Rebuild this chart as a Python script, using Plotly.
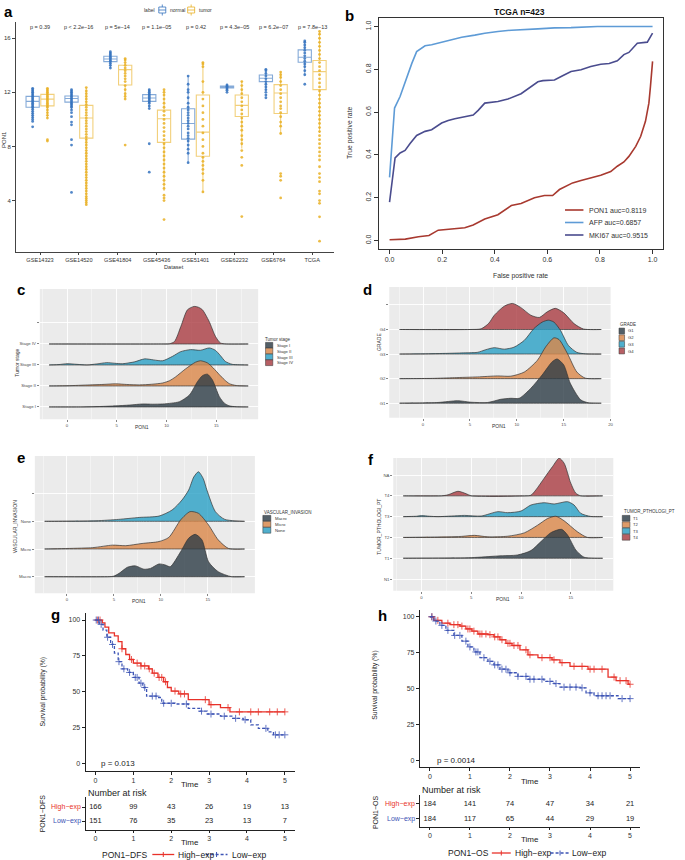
import plotly.graph_objects as go

# ======================= DATA =======================
# ---- panel a : PON1 expression by dataset ----
datasets = ["GSE14323", "GSE14520", "GSE41804", "GSE45436", "GSE51401", "GSE62232", "GSE6764", "TCGA"]
p_values = ["p = 0.39", "p < 2.2e\u221216", "p = 5e\u221214", "p = 1.1e\u221205", "p = 0.42",
            "p = 4.3e\u221205", "p = 6.2e\u221207", "p = 7.8e\u221213"]

normal_q1 = [10.9, 11.28, 14.27, 11.33, 8.54, 12.32, 12.79, 14.22]
normal_median = [11.33, 11.55, 14.47, 11.58, 9.7, 12.4, 13.04, 14.6]
normal_q3 = [11.7, 11.73, 14.67, 11.83, 10.79, 12.47, 13.28, 15.14]
normal_lower = [10.1, 10.7, 13.8, 10.8, 6.8, 12.1, 12.1, 13.3]
normal_upper = [12.3, 12.2, 15.0, 12.2, 13.2, 12.6, 13.7, 15.8]

tumor_q1 = [11.0, 8.62, 12.54, 8.3, 7.28, 10.22, 10.44, 12.2]
tumor_median = [11.5, 10.1, 13.68, 10.05, 9.06, 11.04, 11.95, 13.53]
tumor_q3 = [11.85, 11.04, 14.0, 10.69, 11.8, 11.8, 12.57, 14.35]
tumor_lower = [10.1, 3.7, 11.5, 4.7, 4.64, 7.85, 8.96, 9.0]
tumor_upper = [12.3, 12.35, 14.5, 12.2, 14.27, 12.86, 13.5, 16.5]

normal_points = [
    [9.45, 9.85, 10.0, 10.15, 10.3, 10.45, 10.6, 10.75, 10.9, 11.0, 11.1, 11.2, 11.3, 11.4, 11.5, 11.6, 11.7, 11.8, 11.9, 12.0, 12.1, 12.2, 12.3],
    [4.6, 8.1, 8.5, 9.6, 9.8, 10.2, 10.5, 10.7, 10.9, 11.0, 11.1, 11.2, 11.3, 11.4, 11.5, 11.6, 11.7, 11.8, 11.9, 12.0, 12.1, 12.2],
    [13.8, 14.0, 14.15, 14.3, 14.4, 14.5, 14.6, 14.7, 14.8, 14.9, 15.0],
    [6.1, 8.2, 10.8, 11.0, 11.2, 11.3, 11.4, 11.5, 11.6, 11.7, 11.8, 11.9, 12.0, 12.1, 12.2],
    [6.8, 7.5, 7.8, 8.1, 8.4, 8.6, 8.8, 9.0, 9.3, 9.5, 9.7, 9.9, 10.1, 10.3, 10.5, 10.7, 10.9, 11.2, 11.6, 12.0, 12.2, 12.6, 13.2],
    [12.0, 12.15, 12.25, 12.35, 12.45, 12.55],
    [11.6, 11.8, 12.0, 12.2, 12.4, 12.6, 12.8, 13.0, 13.2, 13.4, 13.6, 13.7],
    [12.6, 13.3, 13.6, 13.9, 14.1, 14.3, 14.5, 14.7, 14.9, 15.1, 15.3, 15.5, 15.7, 15.8],
]
tumor_points = [
    [8.4, 8.5, 10.1, 10.3, 10.5, 10.7, 10.9, 11.0, 11.1, 11.2, 11.3, 11.4, 11.5, 11.6, 11.7, 11.8, 11.9, 12.0, 12.1, 12.2, 12.3],
    [3.7, 3.85, 4.0, 4.15, 4.3, 4.5, 4.7, 4.9, 5.1, 5.3, 5.5, 5.7, 5.9, 6.1, 6.3, 6.5, 6.7, 6.9, 7.1, 7.3, 7.5, 7.7,
     7.9, 8.1, 8.3, 8.5, 8.7, 8.9, 9.1, 9.3, 9.5, 9.7, 9.9, 10.1, 10.3, 10.5, 10.7, 10.9, 11.1, 11.3, 11.5, 11.7, 11.9, 12.1, 12.35],
    [8.1, 11.5, 11.7, 11.9, 12.2, 12.5, 12.8, 13.0, 13.2, 13.4, 13.6, 13.8, 14.0, 14.2, 14.4, 14.5],
    [2.6, 4.0, 4.2, 4.4, 4.9, 5.2, 5.5, 5.8, 6.1, 6.4, 6.7, 7.0, 7.3, 7.6, 7.9, 8.2, 8.5, 8.8, 9.1, 9.4, 9.7, 10.0,
     10.3, 10.6, 10.9, 11.2, 11.5, 11.8, 12.0, 12.2],
    [4.64, 5.5, 6.0, 6.3, 6.6, 6.9, 7.2, 7.5, 8.0, 8.5, 9.0, 9.5, 10.0, 10.5, 11.0, 11.5, 12.0, 12.8, 13.9, 14.1, 14.2],
    [2.82, 6.6, 7.2, 7.7, 8.2, 8.5, 8.8, 9.2, 9.5, 9.8, 10.1, 10.4, 10.7, 11.0, 11.3, 11.6, 11.9, 12.2, 12.5, 12.8],
    [4.2, 5.5, 5.8, 6.0, 8.96, 9.5, 9.8, 10.2, 10.5, 10.8, 11.0, 11.3, 11.6, 11.9, 12.2, 12.5, 12.8, 13.1, 13.3, 13.5],
    [1.0, 2.8, 3.8, 4.0, 4.5, 4.7, 5.4, 5.7, 6.0, 6.5, 7.0, 7.3, 7.6, 7.9, 8.2, 8.5, 8.8, 9.1, 9.4, 9.7, 10.0, 10.3,
     10.6, 10.9, 11.2, 11.5, 11.8, 12.1, 12.4, 12.7, 13.0, 13.3, 13.6, 13.9, 14.2, 14.5, 14.8, 15.1, 15.4, 15.7, 16.0, 16.3, 16.5],
]

# ---- panel b : ROC curves ----
roc_names = ["PON1 auc=0.8119", "AFP auc=0.6857", "MKI67 auc=0.9515"]
fpr_pon1 = [0, 0.06, 0.11, 0.15, 0.185, 0.235, 0.286, 0.318, 0.362, 0.412, 0.438, 0.463, 0.5, 0.551, 0.589, 0.62,
            0.646, 0.696, 0.728, 0.803, 0.841, 0.866, 0.891, 0.91, 0.936, 0.955, 0.973, 0.986, 0.992, 1.0]
tpr_pon1 = [0.003, 0.006, 0.017, 0.023, 0.048, 0.054, 0.059, 0.072, 0.10, 0.12, 0.14, 0.163, 0.173, 0.2, 0.21, 0.21,
            0.238, 0.269, 0.28, 0.305, 0.322, 0.347, 0.367, 0.393, 0.44, 0.487, 0.557, 0.642, 0.72, 0.837]
fpr_afp = [0, 0.019, 0.04, 0.066, 0.085, 0.103, 0.135, 0.16, 0.198, 0.236, 0.274, 0.324, 0.362, 0.412, 0.463,
           0.564, 0.627, 0.69, 0.79, 1.0]
tpr_afp = [0.295, 0.619, 0.673, 0.767, 0.829, 0.883, 0.91, 0.915, 0.927, 0.938, 0.95, 0.96, 0.969, 0.977, 0.983,
           0.989, 0.994, 0.995, 1.0, 1.0]
fpr_mki67 = [0, 0.021, 0.04, 0.059, 0.078, 0.103, 0.135, 0.16, 0.198, 0.223, 0.248, 0.286, 0.318, 0.337, 0.362,
             0.412, 0.45, 0.5, 0.532, 0.564, 0.583, 0.627, 0.658, 0.69, 0.728, 0.765, 0.803, 0.835, 0.866, 0.891,
             0.91, 0.942, 0.98, 1.0]
tpr_mki67 = [0.179, 0.386, 0.409, 0.421, 0.453, 0.491, 0.51, 0.518, 0.549, 0.561, 0.569, 0.58, 0.586, 0.608, 0.642,
             0.65, 0.661, 0.686, 0.714, 0.742, 0.747, 0.75, 0.77, 0.79, 0.798, 0.813, 0.824, 0.827, 0.84, 0.869,
             0.879, 0.922, 0.927, 0.969]

# ---- panel c : tumor stage ridges (x = PON1, h = ridge height in row units) ----
c_levels = ["Stage I", "Stage II", "Stage III", "Stage IV", ""]
c_x_stage1 = [-1.8, 1.5, 3.3, 4.9, 6.3, 7.6, 8.6, 9.6, 10.5, 11.3, 12.3, 13.1, 13.6, 14.1, 14.6, 15.3, 15.8, 16.3, 17.0, 18.2]
c_h_stage1 = [0, 0.0, 0.02, 0.05, 0.09, 0.14, 0.13, 0.14, 0.18, 0.25, 0.57, 1.2, 1.49, 1.56, 1.29, 0.49, 0.18, 0.05, 0.01, 0]
c_x_stage2 = [-1.8, 0, 2.3, 3.5, 4.9, 6.0, 7.3, 8.5, 9.6, 10.3, 10.9, 11.9, 12.9, 13.4, 14.1, 14.7, 15.3, 15.8, 16.3, 17.0, 18.2]
c_h_stage2 = [0, 0.01, 0.05, 0.07, 0.1, 0.07, 0.05, 0.08, 0.14, 0.25, 0.43, 0.81, 1.13, 1.2, 1.1, 0.85, 0.54, 0.3, 0.11, 0.02, 0]
c_x_stage3 = [-1.8, -0.8, 0, 1.0, 2.0, 3.0, 4.0, 4.8, 5.6, 6.8, 7.8, 8.7, 9.6, 10.6, 11.4, 12.4, 13.4, 14.3, 14.9,
              15.4, 15.9, 16.6, 17.3, 18.2]
c_h_stage3 = [0, 0.02, 0.06, 0.03, 0, 0.05, 0.11, 0.08, 0.06, 0.15, 0.29, 0.24, 0.2, 0.41, 0.63, 0.73, 0.7, 0.81, 0.7,
              0.45, 0.17, 0.03, 0.01, 0]
c_x_stage4 = [-1.8, 9.5, 10.3, 10.8, 11.44, 12.1, 12.77, 13.2, 13.6, 14.27, 14.9, 15.4, 16.0, 18.2]
c_h_stage4 = [0, 0, 0.01, 0.12, 0.84, 1.63, 1.79, 1.75, 1.63, 1.08, 0.37, 0.05, 0.0, 0]

# ---- panel d : grade ridges ----
d_levels = ["G1", "G2", "G3", "G4", ""]
d_x_g1 = [-2.5, 1.6, 3.7, 5.1, 6.9, 8.3, 9.36, 10.25, 11.5, 12.7, 13.8, 14.3, 15.0, 15.7, 16.8, 17.6, 19.0]
d_h_g1 = [0, 0.03, 0.1, 0.04, 0.03, 0.16, 0.2, 0.2, 0.61, 1.15, 1.7, 1.8, 1.56, 0.81, 0.14, 0.02, 0]
d_x_g2 = [-2.5, 1.0, 3.36, 5.8, 7.95, 9.36, 10.8, 12.2, 13.07, 13.96, 14.5, 15.4, 16.4, 17.3, 19.0]
d_h_g2 = [0, 0.01, 0.04, 0.07, 0.11, 0.1, 0.27, 0.75, 1.29, 1.66, 1.59, 1.02, 0.27, 0.02, 0]
d_x_g3 = [-2.5, 0, 2.65, 4.5, 5.8, 6.7, 7.6, 8.66, 9.7, 10.8, 11.8, 12.7, 13.36, 13.96, 14.66, 15.5, 16.4, 17.3, 19.0]
d_h_g3 = [0, 0.01, 0.03, 0.05, 0.07, 0.18, 0.26, 0.2, 0.28, 0.56, 1.03, 1.3, 1.38, 1.3, 0.96, 0.35, 0.07, 0.01, 0]
d_x_g4 = [-2.5, 5.0, 6.2, 7.0, 7.6, 8.66, 9.54, 10.4, 11.5, 12.4, 13.25, 14.1, 15.0, 16.1, 17.1, 19.0]
d_h_g4 = [0, 0, 0.03, 0.25, 0.58, 0.95, 1.06, 0.9, 0.58, 0.49, 0.72, 0.86, 0.68, 0.24, 0.02, 0]

# ---- panel e : vascular invasion ridges ----
e_levels = ["Macro", "Micro", "None", ""]
e_x_macro = [-2.36, 4.5, 5.0, 5.56, 6.44, 7.3, 8.2, 8.9, 9.8, 10.5, 11.0, 12.1, 12.96, 13.66, 14.37, 15.07, 16.1, 17.5, 18.9]
e_h_macro = [0, 0, 0.02, 0.12, 0.34, 0.39, 0.27, 0.3, 0.46, 0.42, 0.36, 0.9, 1.39, 1.53, 1.33, 0.54, 0.18, 0.0, 0]
e_x_micro = [-2.36, 2.75, 4.86, 6.27, 8.0, 9.8, 10.85, 12.1, 13.1, 14.0, 15.07, 16.1, 17.2, 18.9]
e_h_micro = [0, 0.05, 0.14, 0.12, 0.2, 0.27, 0.42, 1.05, 1.35, 1.29, 0.87, 0.33, 0.02, 0]
e_x_none = [-2.36, 3.1, 5.5, 7.7, 9.8, 11.2, 12.25, 12.96, 13.5, 14.0, 14.5, 14.9, 15.8, 16.8, 18.9]
e_h_none = [0, 0.02, 0.07, 0.14, 0.19, 0.41, 0.77, 1.13, 1.6, 1.79, 1.55, 1.13, 0.35, 0.07, 0]

# ---- panel f : pathologic T ridges ----
f_levels = ["N1", "T1", "T2", "T3", "T4", "NA"]
f_x_t1 = [-1.83, 5.0, 7.67, 9.67, 11.0, 12.0, 13.0, 14.07, 14.67, 15.5, 16.33, 18.2]
f_h_t1 = [0, 0.03, 0.11, 0.16, 0.37, 0.8, 1.23, 1.39, 1.12, 0.4, 0.05, 0]
f_x_t2 = [-1.83, 2.67, 4.0, 5.33, 6.67, 8.67, 10.33, 11.67, 12.67, 13.5, 14.33, 15.67, 16.67, 18.2]
f_h_t2 = [0, 0.03, 0.05, 0.1, 0.03, 0.06, 0.22, 0.59, 0.91, 1.02, 0.8, 0.27, 0.0, 0]
f_x_t3 = [-1.83, -0.5, 0, 0.8, 1.67, 3.0, 4.33, 6.0, 7.67, 8.67, 10.0, 11.0, 12.33, 13.33, 14.67, 15.33, 16.0, 17.0, 18.2]
f_h_t3 = [0, 0.02, 0.05, 0.02, 0, 0.03, 0.06, 0.03, 0.24, 0.19, 0.27, 0.56, 0.67, 0.61, 0.72, 0.56, 0.16, 0.01, 0]
f_x_t4 = [-1.83, 2.0, 2.67, 3.67, 4.5, 5.0, 10.5, 11.0, 11.5, 12.33, 13.17, 13.83, 14.33, 15.0, 15.5, 16.0, 18.2]
f_h_t4 = [0, 0, 0.05, 0.22, 0.1, 0, 0, 0.03, 0.29, 0.85, 1.41, 1.81, 1.57, 0.61, 0.13, 0, 0]

# ---- panel g : DFS Kaplan-Meier ----
g_high_t = [0, 0.18, 0.25, 0.35, 0.5, 0.6, 0.7, 0.8, 0.9, 1.0, 1.2, 1.4, 1.5, 1.65, 1.8, 1.9, 2.0, 2.2, 2.45, 3.0, 3.3, 3.55, 5.0]
g_high_s = [100, 98, 95, 91, 89, 85, 80, 76, 72.5, 70, 68, 66, 63, 60, 57, 53, 50.5, 48.5, 44.5, 41, 39, 36, 36]
g_low_t = [0, 0.1, 0.2, 0.3, 0.4, 0.5, 0.6, 0.7, 0.85, 1.0, 1.15, 1.25, 1.35, 1.65, 1.75, 2.1, 2.45, 2.75, 2.95,
           3.3, 3.6, 3.9, 4.1, 4.3, 4.55, 4.7, 5.0]
g_low_s = [100, 97, 93, 88, 83, 77, 71, 66, 63.5, 60, 56, 53, 47, 46, 42, 41.5, 38.5, 36.5, 34.5, 33, 31.5, 30.5,
           27, 24.5, 22, 20, 20]
g_high_censor = [0.05, 0.12, 0.7, 0.95, 1.1, 1.2, 1.3, 1.42, 1.55, 1.68, 1.75, 1.85, 2.1, 2.25, 2.35, 2.9, 3.05,
                 3.5, 3.8, 4.1, 4.3, 4.6, 4.8, 5.0]
g_low_censor = [0.02, 0.08, 0.15, 0.32, 0.45, 0.62, 0.75, 0.9, 1.05, 1.1, 1.2, 1.3, 1.5, 1.6, 1.8, 2.0, 2.4, 2.8,
                3.05, 3.4, 3.7, 3.95, 4.5, 4.75, 4.85, 5.0]
g_times = [0, 1, 2, 3, 4, 5]
g_risk_high = [166, 99, 43, 26, 19, 13]
g_risk_low = [151, 76, 35, 23, 13, 7]

# ---- panel h : OS Kaplan-Meier ----
h_high_t = [0, 0.1, 0.3, 0.5, 0.75, 0.9, 1.05, 1.2, 1.45, 1.6, 1.75, 1.9, 2.05, 2.25, 2.45, 2.7, 3.05, 3.25, 3.5,
            3.95, 4.45, 4.65, 4.95, 5.0]
h_high_s = [100, 97.5, 95.5, 94.5, 93.5, 91.5, 90, 88, 87.5, 86, 84, 81.5, 80, 77, 73.5, 71.5, 70, 68, 65.5, 63.5,
            58, 55.5, 53, 53]
h_low_t = [0, 0.1, 0.25, 0.4, 0.6, 0.8, 0.95, 1.1, 1.25, 1.45, 1.6, 1.75, 1.95, 2.2, 2.45, 2.85, 3.1, 3.25, 3.75,
           3.9, 4.1, 4.7, 5.0]
h_low_s = [100, 97, 94, 90.5, 87, 83, 79, 75.5, 71.5, 69, 66.5, 63.5, 61, 58.5, 56.5, 55, 53.5, 51, 50.5, 47, 45, 43, 43]
h_high_censor = [0.05, 0.2, 0.45, 0.6, 0.7, 0.8, 0.95, 1.0, 1.1, 1.25, 1.3, 1.4, 1.5, 1.62, 1.7, 1.8, 1.95, 2.0,
                 2.1, 2.2, 2.4, 2.5, 2.8, 3.0, 3.1, 3.3, 3.6, 3.8, 4.0, 4.1, 4.3, 4.6, 4.75, 4.9, 5.0]
h_low_censor = [0.05, 0.15, 0.3, 0.45, 0.62, 0.75, 0.9, 1.0, 1.15, 1.2, 1.35, 1.5, 1.62, 1.7, 1.8, 1.9, 2.0, 2.2,
                2.4, 2.5, 2.6, 2.8, 3.0, 3.15, 3.35, 3.5, 3.65, 3.8, 4.0, 4.2, 4.3, 4.4, 4.5, 4.8, 5.0]
h_times = [0, 1, 2, 3, 4, 5]
h_risk_high = [184, 141, 74, 47, 34, 21]
h_risk_low = [184, 117, 65, 44, 29, 19]

# ======================= FIGURE =======================
W, H = 685, 860
FONT = "Liberation Sans, Arial, Helvetica, sans-serif"


def X(px):
    return px / W


def Y(py):
    return 1 - py / H


NORMAL = "rgb(52,114,190)"
TUMOR = "rgb(233,176,36)"
NORMAL_BOX = "rgba(52,114,190,0.6)"
TUMOR_BOX = "rgba(233,176,36,0.6)"
R_GRAY, R_ORANGE, R_BLUE, R_RED = ("rgba(45,60,70,0.8)", "rgba(219,135,72,0.8)",
                                   "rgba(41,160,197,0.8)", "rgba(170,60,66,0.8)")
S_GRAY, S_ORANGE, S_BLUE, S_RED = "rgb(83,95,103)", "rgb(222,155,105)", "rgb(80,175,205)", "rgb(183,95,100)"
KM_RED, KM_BLUE = "#E8322A", "#3D54B5"

fig = go.Figure()
ann = []
shapes = []


def A(text, px, py, size, xa="center", ya="middle", angle=0, color="#222", bold=False):
    if bold:
        text = "<b>" + text + "</b>"
    ann.append(dict(text=text, x=X(px), y=Y(py), xref="paper", yref="paper", xanchor=xa, yanchor=ya,
                    showarrow=False, textangle=angle, font=dict(size=size, color=color, family=FONT)))


def RECT(x0, y0, x1, y1, fill, line="#333", lw=0.5):
    shapes.append(dict(type="rect", xref="paper", yref="paper", x0=X(x0), x1=X(x1), y0=Y(y1), y1=Y(y0),
                       fillcolor=fill, line=dict(color=line, width=lw)))


def LINE(x0, y0, x1, y1, color, lw=1.0, dash="solid"):
    shapes.append(dict(type="line", xref="paper", yref="paper", x0=X(x0), x1=X(x1), y0=Y(y0), y1=Y(y1),
                       line=dict(color=color, width=lw, dash=dash)))


layout = dict(width=W, height=H, margin=dict(l=0, r=0, t=0, b=0), paper_bgcolor="white",
              plot_bgcolor="white", showlegend=False, font=dict(family=FONT, color="#222"))


def axis(dom, rng, anchor, **kw):
    d = dict(domain=dom, range=rng, anchor=anchor, zeroline=False, showgrid=False, fixedrange=True)
    d.update(kw)
    return d


# ---------------- panel a ----------------
off = 0.19
layout["xaxis"] = axis([X(16), X(335)], [-0.62, 7.55], "y", tickvals=list(range(len(datasets))),
                       ticktext=datasets, showline=True, linecolor="#444", linewidth=1, ticks="outside",
                       ticklen=2, tickcolor="#444", tickfont=dict(size=5.6, color="#333"))
layout["yaxis"] = axis([Y(252), Y(22)], [0.2, 17.2], "x", tickvals=[4, 8, 12, 16], showline=True,
                       linecolor="#444", linewidth=1, ticks="outside", ticklen=3, tickcolor="#444",
                       tickfont=dict(size=6, color="#333"))
for i in range(len(datasets)):
    for pos, q1, md, q3, lo, hi, col in [
        (i - off, normal_q1[i], normal_median[i], normal_q3[i], normal_lower[i], normal_upper[i], NORMAL_BOX),
        (i + off, tumor_q1[i], tumor_median[i], tumor_q3[i], tumor_lower[i], tumor_upper[i], TUMOR_BOX)]:
        fig.add_trace(go.Box(x=[pos], q1=[q1], median=[md], q3=[q3], lowerfence=[lo], upperfence=[hi],
                             width=0.34, whiskerwidth=0, boxpoints=False, line=dict(color=col, width=1.1),
                             fillcolor="rgba(255,255,255,0)", xaxis="x", yaxis="y", hoverinfo="skip"))
for i in range(len(datasets)):
    fig.add_trace(go.Scatter(x=[i - off] * len(normal_points[i]), y=normal_points[i], mode="markers",
                             marker=dict(size=2.8, color=NORMAL, opacity=0.85), xaxis="x", yaxis="y",
                             hoverinfo="skip"))
    fig.add_trace(go.Scatter(x=[i + off] * len(tumor_points[i]), y=tumor_points[i], mode="markers",
                             marker=dict(size=2.8, color=TUMOR, opacity=0.85), xaxis="x", yaxis="y",
                             hoverinfo="skip"))
    ann.append(dict(text=p_values[i], x=i, y=Y(27), xref="x", yref="paper", showarrow=False,
                    xanchor="center", yanchor="middle", font=dict(size=5.5, color="#333", family=FONT)))
A("PON1", 4, 139, 6, angle=-90, color="#333")
A("Dataset", 175, 266.5, 5.6, color="#333")
# legend of panel a
A("label", 143, 10, 5, xa="left", color="#333")
for x0, col, lab in [(159.5, NORMAL, "normal"), (188.5, TUMOR, "tumor")]:
    RECT(x0, 7, x0 + 7, 13, "rgba(255,255,255,0)", line=col, lw=0.8)
    LINE(x0, 10, x0 + 7, 10, col, 0.8)
    LINE(x0 + 3.5, 4.5, x0 + 3.5, 7, col, 0.8)
    LINE(x0 + 3.5, 13, x0 + 3.5, 15.5, col, 0.8)
    A(lab, x0 + 9.5, 10, 5, xa="left", color="#333")
A("a", 2, 11, 15, xa="left", bold=True, color="black")

# ---------------- panel b ----------------
layout["xaxis2"] = axis([X(380.7), X(666)], [-0.04, 1.04], "y2", tickvals=[0, 0.2, 0.4, 0.6, 0.8, 1.0],
                        ticktext=["0.0", "0.2", "0.4", "0.6", "0.8", "1.0"], showline=True, mirror=True,
                        linecolor="#333", linewidth=1, ticks="outside", ticklen=4, tickcolor="#333",
                        tickfont=dict(size=7, color="#333"))
layout["yaxis2"] = axis([Y(249), Y(18)], [-0.04, 1.04], "x2", tickvals=[0, 0.2, 0.4, 0.6, 0.8, 1.0],
                        ticktext=["0.0", "0.2", "0.4", "0.6", "0.8", "1.0"], showline=True, mirror=True,
                        linecolor="#333", linewidth=1, ticks="outside", ticklen=4, tickcolor="#333",
                        tickangle=-90, tickfont=dict(size=7, color="#333"))
ROC_COLS = ["#A8392F", "#5E9BD6", "#4A4C8E"]
for fx, ty, col in [(fpr_pon1, tpr_pon1, ROC_COLS[0]), (fpr_afp, tpr_afp, ROC_COLS[1]),
                    (fpr_mki67, tpr_mki67, ROC_COLS[2])]:
    fig.add_trace(go.Scatter(x=fx, y=ty, mode="lines", line=dict(color=col, width=1.6),
                             xaxis="x2", yaxis="y2", hoverinfo="skip"))
A("TCGA n=423", 521.7, 11.5, 8.5, bold=True, color="#111")
A("False positive rate", 523, 276, 6.8, color="#333")
A("True positive rate", 351.5, 133, 6.8, angle=-90, color="#333")
for k, yy in enumerate([210, 222.5, 235]):
    LINE(567.5, yy, 586, yy, ROC_COLS[k], 1.6)
    A(roc_names[k], 590, yy, 7, xa="left", color="#333")
A("b", 345, 16, 15, xa="left", bold=True, color="black")


# ---------------- ridge helpers ----------------
def ridge_axes(n, xdom, ydom, xr, yr, levels, xmajor, xminor):
    layout["xaxis%d" % n] = axis(xdom, xr, "y%d" % n, tickvals=xmajor, showgrid=True, gridcolor="white",
                                 gridwidth=0.9, minor=dict(tickvals=xminor, showgrid=True, gridcolor="white",
                                                           gridwidth=0.4),
                                 ticks="outside", ticklen=2, tickwidth=0.6, tickcolor="#333",
                                 tickfont=dict(size=4.3, color="#4D4D4D"))
    layout["yaxis%d" % n] = axis(ydom, yr, "x%d" % n, tickvals=list(range(1, len(levels) + 1)),
                                 ticktext=levels, showgrid=True, gridcolor="white", gridwidth=0.9,
                                 ticks="outside", ticklen=2, tickwidth=0.6, tickcolor="#333",
                                 tickfont=dict(size=4.3, color="#4D4D4D"))
    shapes.append(dict(type="rect", xref="x%d domain" % n, yref="y%d domain" % n, x0=0, x1=1, y0=0, y1=1,
                       fillcolor="#EBEBEB", line=dict(width=0), layer="below"))


def ridge(n, xs, hs, base, fill):
    px = list(xs) + list(xs)[::-1]
    py = [base + h for h in hs] + [base] * len(xs)
    fig.add_trace(go.Scatter(x=px, y=py, mode="lines", fill="toself", fillcolor=fill,
                             line=dict(color="#333333", width=0.7, shape="spline", smoothing=0.7),
                             xaxis="x%d" % n, yaxis="y%d" % n, hoverinfo="skip"))


def ridge_legend(title, tx, ty, items, sx0, sx1, ys, textx):
    A(title, tx, ty, 4.5, xa="left", color="#333")
    for (lab, col), yy in zip(items, ys):
        RECT(sx0, yy - 2.9, sx1, yy + 2.9, col, line="#333", lw=0.5)
        A(lab, textx, yy, 4.2, xa="left", color="#333")


# ---------------- panel c ----------------
ridge_axes(3, [X(40), X(259.3)], [Y(419.3), Y(289)], [-2.73, 19.2], [0.41, 6.62], c_levels,
           [0, 5, 10, 15], [-2.5, 2.5, 7.5, 12.5, 17.5])
ridge(3, c_x_stage4, c_h_stage4, 4, R_RED)
ridge(3, c_x_stage3, c_h_stage3, 3, R_BLUE)
ridge(3, c_x_stage2, c_h_stage2, 2, R_ORANGE)
ridge(3, c_x_stage1, c_h_stage1, 1, R_GRAY)
A("PON1", 143, 426.5, 5, color="#333")
A("Tumor stage", 17, 362.7, 5, angle=-90, color="#333")
ridge_legend("Tumor stage", 264, 339.3, list(zip(c_levels[:4], [S_GRAY, S_ORANGE, S_BLUE, S_RED])),
             266.7, 274, [345.3, 351, 357, 362.7], 276)
A("c", 15, 290, 15, xa="left", bold=True, color="black")

# ---------------- panel d ----------------
ridge_axes(4, [X(391), X(613.3)], [Y(417.7), Y(287)], [-3.6, 20.0], [0.41, 5.73], d_levels,
           [0, 5, 10, 15, 20], [-2.5, 2.5, 7.5, 12.5, 17.5])
ridge(4, d_x_g4, d_h_g4, 4, R_RED)
ridge(4, d_x_g3, d_h_g3, 3, R_BLUE)
ridge(4, d_x_g2, d_h_g2, 2, R_ORANGE)
ridge(4, d_x_g1, d_h_g1, 1, R_GRAY)
A("PON1", 501, 426, 5, color="#333")
A("GRADE", 380, 341.7, 5, angle=-90, color="#333")
ridge_legend("GRADE", 621, 324, list(zip(d_levels[:4], [S_GRAY, S_ORANGE, S_BLUE, S_RED])),
             621.7, 627.3, [331, 337.7, 344.3, 351], 629)
A("d", 363, 290, 15, xa="left", bold=True, color="black")

# ---------------- panel e ----------------
ridge_axes(5, [X(35), X(256)], [Y(593.3), Y(456)], [-3.4, 20.0], [0.4, 5.36], e_levels,
           [0, 5, 10, 15], [-2.5, 2.5, 7.5, 12.5, 17.5])
ridge(5, e_x_none, e_h_none, 3, R_BLUE)
ridge(5, e_x_micro, e_h_micro, 2, R_ORANGE)
ridge(5, e_x_macro, e_h_macro, 1, R_GRAY)
A("PON1", 140, 601, 5, color="#333")
A("VASCULAR_INVASION", 14.5, 526.7, 5, angle=-90, color="#333")
ridge_legend("VASCULAR_INVASION", 263, 512.3, list(zip(e_levels[:3], [S_GRAY, S_ORANGE, S_BLUE])),
             264, 272, [518.3, 524.3, 530.3], 274)
A("e", 15, 457, 15, xa="left", bold=True, color="black")

# ---------------- panel f ----------------
ridge_axes(6, [X(395), X(616)], [Y(590.7), Y(458)], [-2.83, 19.27], [0.44, 6.82], f_levels,
           [0, 5, 10, 15], [-2.5, 2.5, 7.5, 12.5, 17.5])
ridge(6, f_x_t4, f_h_t4, 5, R_RED)
ridge(6, f_x_t3, f_h_t3, 4, R_BLUE)
ridge(6, f_x_t2, f_h_t2, 3, R_ORANGE)
ridge(6, f_x_t1, f_h_t1, 2, R_GRAY)
A("PON1", 505, 598.5, 5, color="#333")
A("TUMOR_PTHOLOGI_PT", 380.7, 526.7, 5, angle=-90, color="#333")
ridge_legend("TUMOR_PTHOLOGI_PT", 624.3, 511.7, list(zip(f_levels[1:5], [S_GRAY, S_ORANGE, S_BLUE, S_RED])),
             625, 632.7, [518.3, 524.7, 531, 537.3], 634)
A("f", 368, 459, 15, xa="left", bold=True, color="black")


# ---------------- KM helpers ----------------
def step_at(ts, ss, t):
    v = ss[0]
    for tt, s in zip(ts, ss):
        if tt <= t:
            v = s
    return v


def km_panel(n, xdom, ydom, yr, curves):
    layout["xaxis%d" % n] = axis(xdom, [-0.26, 5.26], "y%d" % n, tickvals=[0, 1, 2, 3, 4, 5], showline=True,
                                 linecolor="#222", linewidth=1, ticks="outside", ticklen=3, tickcolor="#222",
                                 tickfont=dict(size=7, color="#333"))
    layout["yaxis%d" % n] = axis(ydom, yr, "x%d" % n, tickvals=[0, 25, 50, 75, 100], showline=True,
                                 linecolor="#222", linewidth=1, ticks="outside", ticklen=3, tickcolor="#222",
                                 tickfont=dict(size=7, color="#333"))
    for ts, ss, cens, col, dash in curves:
        fig.add_trace(go.Scatter(x=ts, y=ss, mode="lines", line=dict(color=col, width=1.3, shape="hv", dash=dash),
                                 xaxis="x%d" % n, yaxis="y%d" % n, hoverinfo="skip"))
        fig.add_trace(go.Scatter(x=cens, y=[step_at(ts, ss, c) for c in cens], mode="markers",
                                 marker=dict(symbol="cross-thin", size=5, line=dict(width=1, color=col)),
                                 opacity=0.8, xaxis="x%d" % n, yaxis="y%d" % n, hoverinfo="skip"))


def risk_table(n, xdom, ydom, yr, times, high, low):
    layout["xaxis%d" % n] = axis(xdom, [-0.26, 5.26], "y%d" % n, tickvals=times, showline=True,
                                 linecolor="#222", linewidth=1, ticks="outside", ticklen=2, tickcolor="#222",
                                 tickfont=dict(size=7, color="#333"))
    layout["yaxis%d" % n] = axis(ydom, yr, "x%d" % n, tickvals=[1, 2], showticklabels=False, showline=True,
                                 linecolor="#222", linewidth=1, ticks="outside", ticklen=3, tickcolor="#222")
    fig.add_trace(go.Scatter(x=times, y=[2] * len(times), mode="text", text=[str(v) for v in high],
                             textfont=dict(size=7.5, color="#222", family=FONT), xaxis="x%d" % n,
                             yaxis="y%d" % n, hoverinfo="skip"))
    fig.add_trace(go.Scatter(x=times, y=[1] * len(times), mode="text", text=[str(v) for v in low],
                             textfont=dict(size=7.5, color="#222", family=FONT), xaxis="x%d" % n,
                             yaxis="y%d" % n, hoverinfo="skip"))


def km_legend(title, tx, ty, red_x, high_x, blue_x, low_x, icon_w):
    A(title, tx, ty, 8.5, xa="left", color="#222")
    LINE(red_x, ty, red_x + icon_w, ty, KM_RED, 1.3)
    LINE(red_x + icon_w / 2, ty - 2.5, red_x + icon_w / 2, ty + 2.5, KM_RED, 1)
    A("High\u2212exp", high_x, ty, 8.5, xa="left", color="#222")
    LINE(blue_x, ty, blue_x + icon_w, ty, KM_BLUE, 1.3, dash="3px,2px")
    LINE(blue_x + icon_w / 2, ty - 2.5, blue_x + icon_w / 2, ty + 2.5, KM_BLUE, 1)
    A("Low\u2212exp", low_x, ty, 8.5, xa="left", color="#222")


# ---------------- panel g ----------------
km_panel(7, [X(86), X(296)], [Y(770.7), Y(613.3)], [-5, 104.7],
         [(g_high_t, g_high_s, g_high_censor, KM_RED, "solid"),
          (g_low_t, g_low_s, g_low_censor, KM_BLUE, "3px,2px")])
A("Survival probability (%)", 43, 691.7, 6.8, angle=-90, color="#222")
A("Time", 191, 784, 8, color="#222")
ann.append(dict(text="p = 0.013", x=0.1, y=0, xref="x7", yref="y7", xanchor="left", yanchor="middle",
                showarrow=False, font=dict(size=8, color="#222", family=FONT)))
A("Number at risk", 86.5, 793, 9, xa="left", color="#222")
risk_table(8, [X(86), X(296)], [Y(830), Y(796.7)], [0.38, 2.76], g_times, g_risk_high, g_risk_low)
A("High\u2212exp", 83, 807.3, 7, xa="right", color=KM_RED)
A("Low\u2212exp", 83, 821.3, 7, xa="right", color=KM_BLUE)
A("PON1\u2212DFS", 43, 813.5, 7, angle=-90, color="#222")
A("Time", 191, 842, 8, color="#222")
km_legend("PON1\u2212DFS", 100, 854.5, 153, 176.5, 206.5, 231.5, 22)
A("g", 49, 614, 15, xa="left", bold=True, color="black")

# ---------------- panel h ----------------
km_panel(9, [X(421.7), X(643.3)], [Y(766.7), Y(610)], [-4.4, 104.7],
         [(h_high_t, h_high_s, h_high_censor, KM_RED, "solid"),
          (h_low_t, h_low_s, h_low_censor, KM_BLUE, "3px,2px")])
layout["xaxis9"]["range"] = [-0.25, 5.26]
A("Survival probability (%)", 376.5, 685, 6.8, angle=-90, color="#222")
A("Time", 532.7, 781, 8, color="#222")
ann.append(dict(text="p = 0.0014", x=0.12, y=0, xref="x9", yref="y9", xanchor="left", yanchor="middle",
                showarrow=False, font=dict(size=8, color="#222", family=FONT)))
A("Number at risk", 421.5, 789.5, 9, xa="left", color="#222")
risk_table(10, [X(421.7), X(643.3)], [Y(826.7), Y(795)], [0.46, 2.61], h_times, h_risk_high, h_risk_low)
layout["xaxis10"]["range"] = [-0.25, 5.26]
A("High\u2212exp", 419, 804, 7, xa="right", color=KM_RED)
A("Low\u2212exp", 419, 818.7, 7, xa="right", color=KM_BLUE)
A("PON1\u2212OS", 377, 811.7, 7, angle=-90, color="#222")
A("Time", 532.7, 839, 8, color="#222")
km_legend("PON1\u2212OS", 448, 853, 494, 515, 553, 573, 19)
A("h", 378, 615, 15, xa="left", bold=True, color="black")

layout["annotations"] = ann
layout["shapes"] = shapes
fig.update_layout(**layout)
fig.write_html("out.html", config={"displayModeBar": False, "staticPlot": True},
               post_script="document.body.style.margin='0px';document.body.style.overflow='hidden';")
